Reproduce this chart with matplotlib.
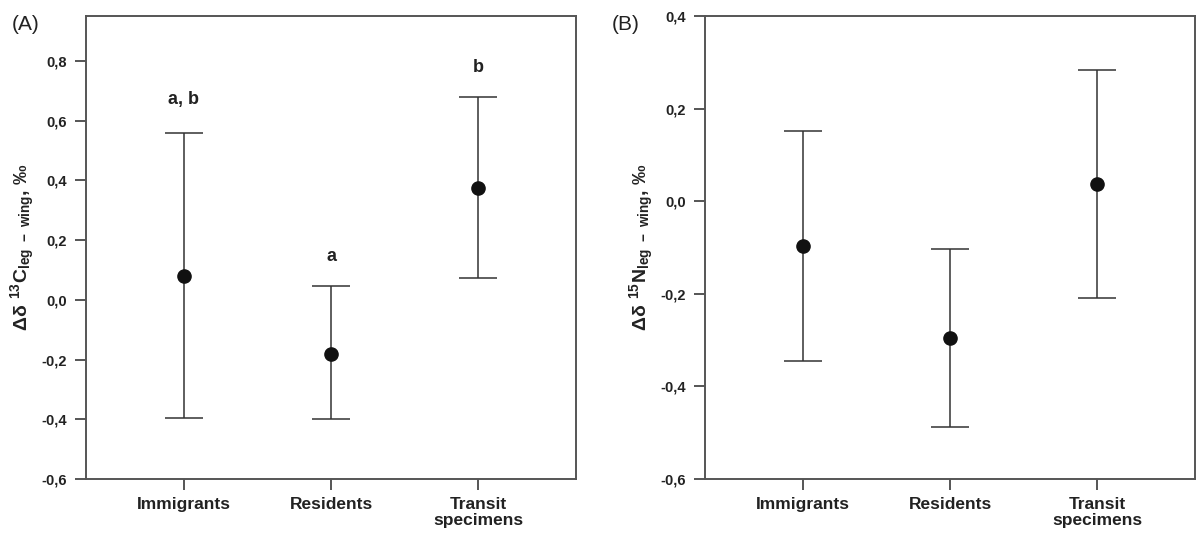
import numpy as np
import matplotlib.pyplot as plt
from matplotlib.ticker import FixedLocator, FuncFormatter

# ---------------------------------------------------------
# Data
# ---------------------------------------------------------
groups = ['Immigrants', 'Residents', 'Transit\nspecimens']

c_mean = [0.08, -0.18, 0.375]
c_upper = [0.56, 0.045, 0.68]
c_lower = [-0.395, -0.40, 0.072]
c_letters = ['a, b', 'a', 'b']
c_letter_y = [0.67, 0.145, 0.78]

n_mean = [-0.097, -0.295, 0.037]
n_upper = [0.152, -0.103, 0.283]
n_lower = [-0.345, -0.488, -0.208]

# ---------------------------------------------------------
# Style
# ---------------------------------------------------------
plt.rcParams['font.family'] = ['Liberation Sans', 'DejaVu Sans']
plt.rcParams['mathtext.fontset'] = 'custom'
plt.rcParams['mathtext.bf'] = 'Liberation Sans:bold'
plt.rcParams['mathtext.rm'] = 'Liberation Sans:bold'
plt.rcParams['mathtext.default'] = 'bf'

spine_col = '#555555'
line_col = '#333333'
narrow = ['Liberation Sans Narrow', 'Liberation Sans']

fig = plt.figure(figsize=(11.96, 5.33), dpi=100)
axA = fig.add_axes([86 / 1196, 54 / 533, 490 / 1196, 463 / 533])
axB = fig.add_axes([705 / 1196, 54 / 533, 490 / 1196, 463 / 533])

comma = FuncFormatter(lambda v, p: ('%.1f' % v).replace('.', ','))
x = np.arange(1, 4)


def draw(ax, mean, lo, hi):
    mean = np.array(mean)
    yerr = [mean - np.array(lo), np.array(hi) - mean]
    ax.errorbar(x, mean, yerr=yerr, fmt='o', color='#111111', ms=9.5,
                ecolor=line_col, elinewidth=1.1, capsize=13.5, capthick=1.1)
    for s in ax.spines.values():
        s.set_color(spine_col)
        s.set_linewidth(1.4)
    ax.set_xlim(1 / 3, 11 / 3)
    ax.set_xticks(x)
    ax.set_xticklabels(groups, fontsize=12.5, fontweight='bold',
                       color='#222222', linespacing=1.05)
    ax.tick_params(axis='both', direction='out', length=8, width=1.4,
                   color=spine_col)
    ax.tick_params(axis='x', pad=5)
    ax.tick_params(axis='y', labelsize=10.5, pad=6)
    ax.yaxis.set_major_formatter(comma)
    for t in ax.get_yticklabels():
        t.set_fontweight('bold')
        t.set_family(narrow)
        t.set_color('#222222')


draw(axA, c_mean, c_lower, c_upper)
axA.set_ylim(-0.6, 0.951)
axA.yaxis.set_major_locator(FixedLocator(np.arange(-0.6, 0.81, 0.2)))
for xi, lab, ly in zip(x, c_letters, c_letter_y):
    axA.text(xi, ly, lab, ha='center', va='center', fontsize=13,
             fontweight='bold', color='#222222', family=narrow)
axA.set_ylabel(r'$\Delta\delta\ ^{13}C_{leg\ -\ wing}$, ‰', fontsize=14,
               fontweight='bold', color='#222222', labelpad=3)

draw(axB, n_mean, n_lower, n_upper)
axB.set_ylim(-0.6, 0.4)
axB.yaxis.set_major_locator(FixedLocator(np.arange(-0.6, 0.41, 0.2)))
axB.set_ylabel(r'$\Delta\delta\ ^{15}N_{leg\ -\ wing}$, ‰', fontsize=14,
               fontweight='bold', color='#222222', labelpad=3)

fig.text(12 / 1196, 1 - 24 / 533, '(A)', fontsize=15, color='#222222',
         va='center', ha='left')
fig.text(612 / 1196, 1 - 24 / 533, '(B)', fontsize=15, color='#222222',
         va='center', ha='left')

plt.savefig('out.png', dpi=100, facecolor='white')
